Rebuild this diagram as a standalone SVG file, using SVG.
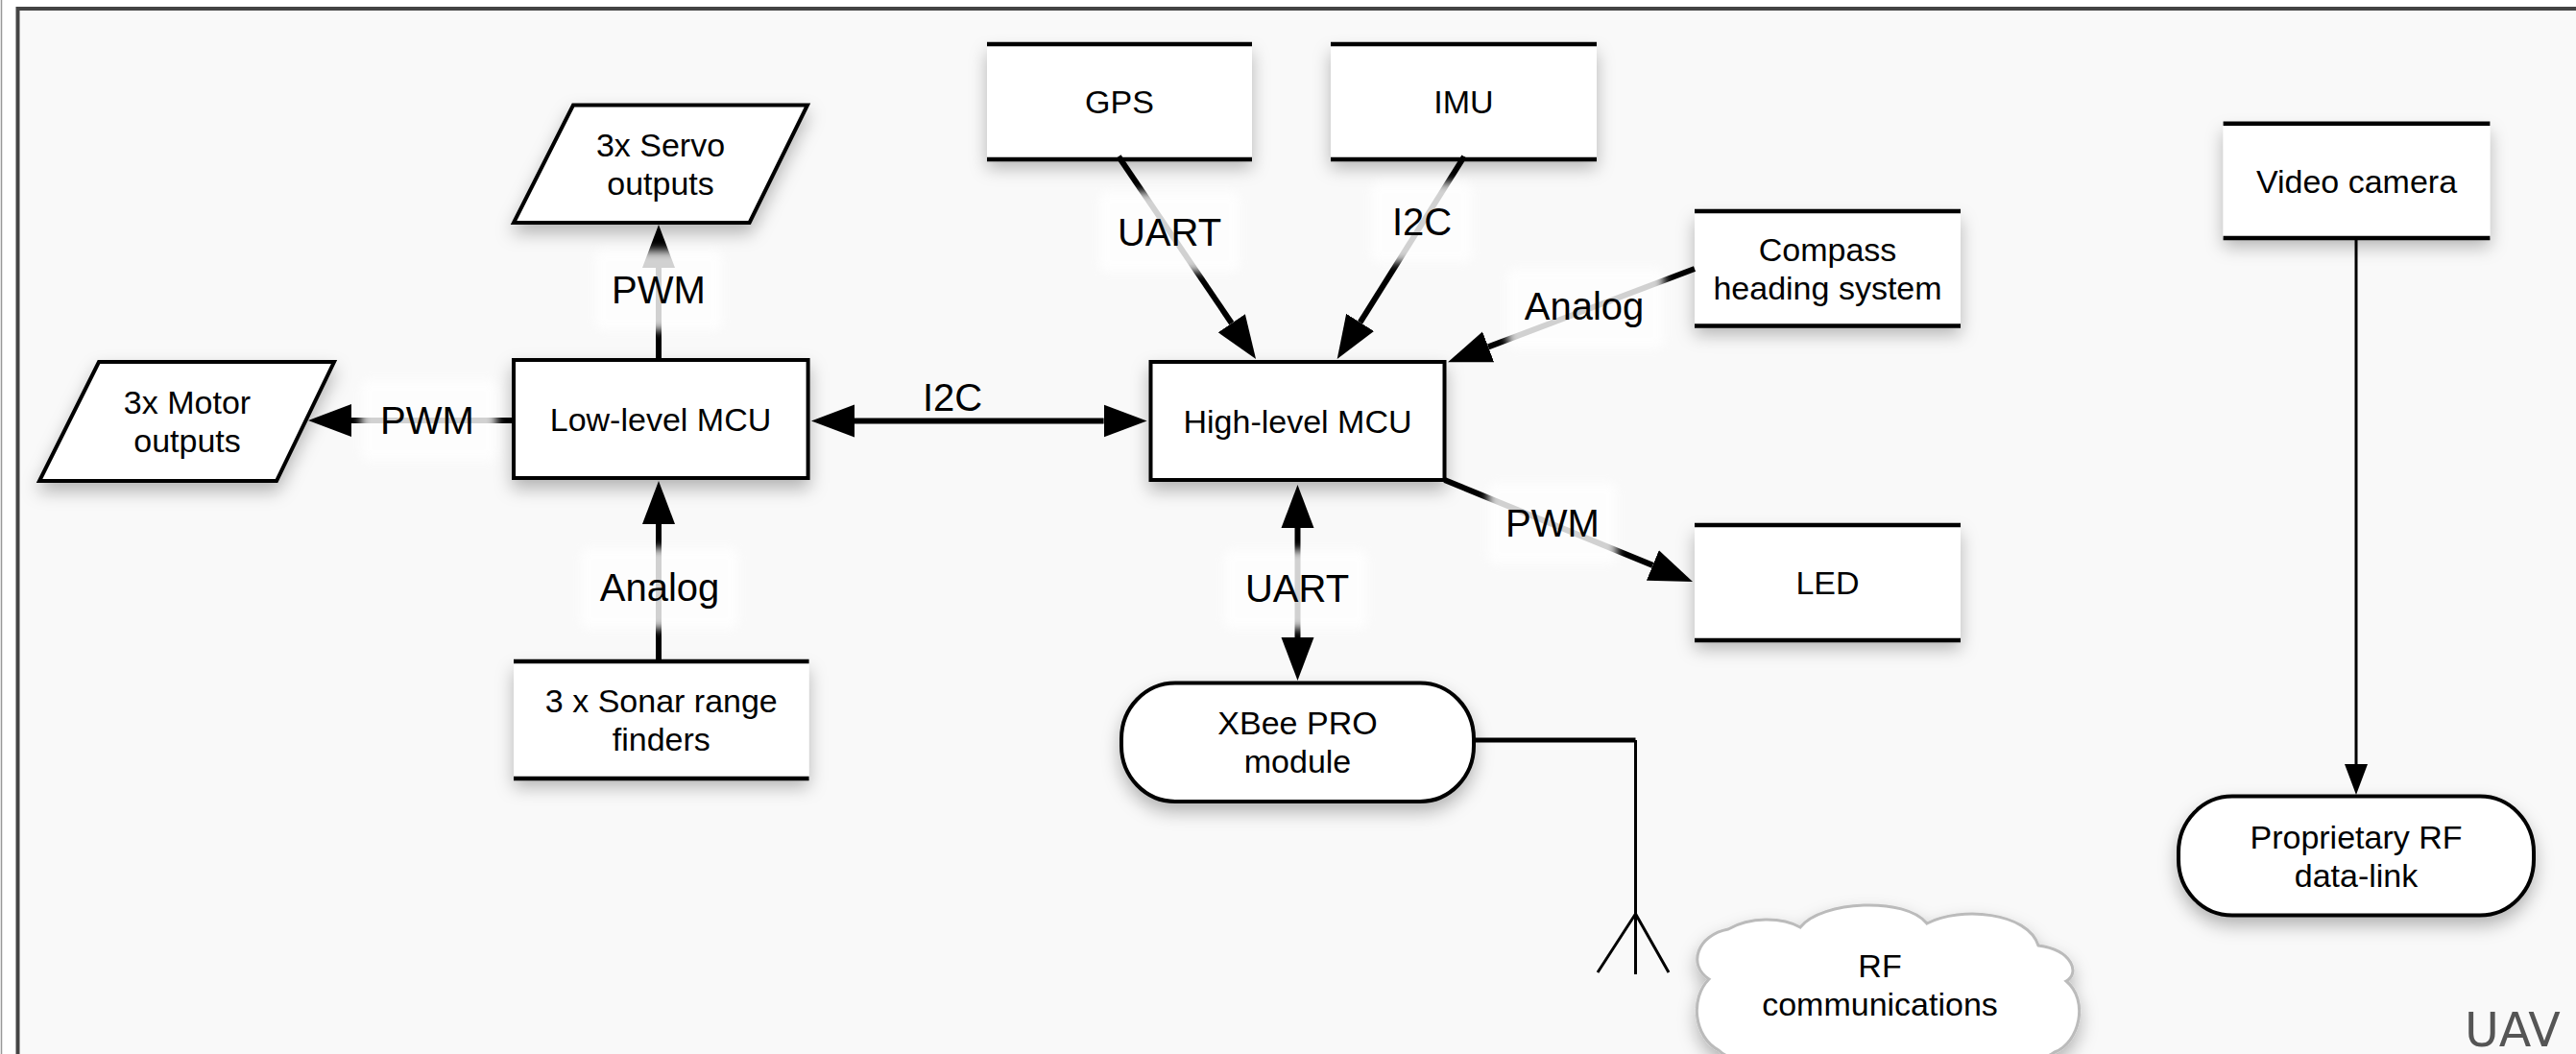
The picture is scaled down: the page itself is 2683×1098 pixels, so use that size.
<svg xmlns="http://www.w3.org/2000/svg" width="2683" height="1098" viewBox="0 0 2683 1098">
<defs>
<filter id="sh" x="-20%" y="-30%" width="140%" height="180%"><feDropShadow dx="0" dy="9" stdDeviation="9" flood-color="#000" flood-opacity="0.28"/></filter>
<filter id="blur" x="-20%" y="-30%" width="140%" height="160%"><feGaussianBlur stdDeviation="5"/></filter>
<marker id="ah" markerUnits="userSpaceOnUse" markerWidth="46" markerHeight="36" refX="0" refY="18" orient="auto-start-reverse" viewBox="0 0 46 36"><path d="M0,1 L45,18 L0,35 Z" fill="#000"/></marker>
<marker id="ahThin" markerUnits="userSpaceOnUse" markerWidth="33" markerHeight="26" refX="0" refY="13" orient="auto" viewBox="0 0 33 26"><path d="M0,1 L32,13 L0,25 Z" fill="#000"/></marker>
<style>
.t{font-family:"Liberation Sans",Arial,Helvetica,sans-serif;font-size:34px;fill:#000;text-anchor:middle}
.lb{font-family:"Liberation Sans",Arial,Helvetica,sans-serif;font-size:40px;fill:#000;text-anchor:middle}
.box{fill:#fff;stroke:#000;stroke-width:4;filter:url(#sh)}
.ds{fill:#fff;filter:url(#sh)}
.dl{stroke:#000;stroke-width:4.5;fill:none}
.c{stroke:#000;stroke-width:6;fill:none;marker-end:url(#ah)}
.c2{stroke:#000;stroke-width:6;fill:none;marker-start:url(#ah);marker-end:url(#ah)}
.lbg{fill:#fff;opacity:0.82;filter:url(#blur)}
</style>
</defs>
<rect x="0" y="0" width="2683" height="1098" fill="#fff"/>
<line x1="1.5" y1="0" x2="1.5" y2="1098" stroke="#999" stroke-width="1.5"/>
<rect x="18.5" y="9" width="2700" height="1200" fill="#f9f9f9" stroke="#444" stroke-width="4"/>

<g id="servo"><polygon class="box" points="597,109.5 841,109.5 780.6,232 535,232"/><text class="t" x="688" y="163">3x Servo</text><text class="t" x="688" y="203">outputs</text></g>
<g id="motor"><polygon class="box" points="103,377 348,377 288,501 41,501"/><text class="t" x="195" y="431">3x Motor</text><text class="t" x="195" y="471">outputs</text></g>
<g id="lowmcu"><rect class="box" x="535" y="375" width="306.6" height="123"/><text class="t" x="688" y="448.5">Low-level MCU</text></g>
<g id="sonar"><rect class="ds" x="535" y="689" width="307.6" height="122"/><line class="dl" x1="535" y1="689" x2="842.6" y2="689"/><line class="dl" x1="535" y1="811" x2="842.6" y2="811"/><text class="t" x="688.8" y="742">3 x Sonar range</text><text class="t" x="688.8" y="782">finders</text></g>
<g id="gps"><rect class="ds" x="1028" y="46" width="276" height="120"/><line class="dl" x1="1028" y1="46" x2="1304" y2="46"/><line class="dl" x1="1028" y1="166" x2="1304" y2="166"/><text class="t" x="1166" y="118">GPS</text></g>
<g id="imu"><rect class="ds" x="1386" y="46" width="277" height="120"/><line class="dl" x1="1386" y1="46" x2="1663" y2="46"/><line class="dl" x1="1386" y1="166" x2="1663" y2="166"/><text class="t" x="1524.5" y="118">IMU</text></g>
<g id="compass"><rect class="ds" x="1765" y="220" width="277" height="119.6"/><line class="dl" x1="1765" y1="220" x2="2042" y2="220"/><line class="dl" x1="1765" y1="339.6" x2="2042" y2="339.6"/><text class="t" x="1903.5" y="272">Compass</text><text class="t" x="1903.5" y="312">heading system</text></g>
<g id="highmcu"><rect class="box" x="1198.5" y="377" width="306" height="123"/><text class="t" x="1351.5" y="450.5">High-level MCU</text></g>
<g id="led"><rect class="ds" x="1765" y="547" width="277" height="120"/><line class="dl" x1="1765" y1="547" x2="2042" y2="547"/><line class="dl" x1="1765" y1="667" x2="2042" y2="667"/><text class="t" x="1903.5" y="619">LED</text></g>
<g id="xbee"><rect class="box" x="1168" y="711.5" width="367" height="123.5" rx="56" ry="58"/><text class="t" x="1351.5" y="765">XBee PRO</text><text class="t" x="1351.5" y="805">module</text></g>
<g id="video"><rect class="ds" x="2315.6" y="128.7" width="277.8" height="119.3"/><line class="dl" x1="2315.6" y1="128.7" x2="2593.4" y2="128.7"/><line class="dl" x1="2315.6" y1="248" x2="2593.4" y2="248"/><text class="t" x="2454.5" y="200.5">Video camera</text></g>
<g id="proprf"><rect class="box" x="2269" y="829.6" width="370" height="124" rx="56" ry="58"/><text class="t" x="2454" y="883.6">Proprietary RF</text><text class="t" x="2454" y="923.6">data-link</text></g>
<g id="rfcloud"><path d="M1780,1020 C1757,1005 1768,974 1800,968 C1822,955 1856,955 1875,966 C1897,938 1985,934 2007,962 C2042,944 2112,950 2123,985 C2160,990 2166,1015 2152,1022 C2176,1042 2166,1086 2140,1096 C2100,1128 1822,1128 1790,1094 C1764,1080 1760,1040 1780,1020 Z" fill="#fff" stroke="#bbb" stroke-width="3" filter="url(#sh)"/><text class="t" x="1958" y="1018">RF</text><text class="t" x="1958" y="1058">communications</text></g>

<g id="connectors">
<path class="c" d="M535,438 L366,438"/>
<path class="c" d="M686,375 L686,279"/>
<path class="c" d="M686,689 L686,546"/>
<path class="c2" d="M890,438.5 L1149.6,438.5"/>
<path class="c" d="M1165,163 L1282.8,336.7"/>
<path class="c" d="M1525,163 L1416.6,335.9"/>
<path class="c" d="M1765,280 L1550.1,361.4"/>
<path class="c" d="M1504.6,500 L1721.4,588.9"/>
<path class="c2" d="M1351.5,550 L1351.5,664"/>
<path d="M2454,248 L2454,796" stroke="#000" stroke-width="3" fill="none" marker-end="url(#ahThin)"/>
<path d="M1535,771 L1703.5,771" stroke="#000" stroke-width="5" fill="none"/>
<path d="M1703.5,771 L1703.5,1015 M1703.5,952 L1664,1013 M1703.5,952 L1738,1013" stroke="#000" stroke-width="3" fill="none"/>
</g>

<g id="labels">
<rect class="lbg" x="376" y="396" width="141" height="84" rx="8"/>
<text class="lb" x="445" y="452">PWM</text>
<rect class="lbg" x="620" y="261" width="132" height="83" rx="8"/>
<text class="lb" x="686" y="316">PWM</text>
<rect class="lbg" x="605" y="571" width="164" height="84" rx="8"/>
<text class="lb" x="687" y="626">Analog</text>
<text class="lb" x="992" y="428">I2C</text>
<rect class="lbg" x="1145" y="200" width="146" height="83" rx="8"/>
<text class="lb" x="1218" y="256">UART</text>
<rect class="lbg" x="1428" y="190" width="105" height="83" rx="8"/>
<text class="lb" x="1481" y="245">I2C</text>
<rect class="lbg" x="1570" y="280" width="163" height="83" rx="8"/>
<text class="lb" x="1650" y="333">Analog</text>
<rect class="lbg" x="1550" y="503" width="134" height="84" rx="8"/>
<text class="lb" x="1617" y="559">PWM</text>
<rect class="lbg" x="1275" y="573" width="149" height="82" rx="8"/>
<text class="lb" x="1351" y="627">UART</text>
</g>
<text x="2567" y="1090" font-family="DejaVu Sans, sans-serif" font-size="49" fill="#555">UAV</text>
</svg>
